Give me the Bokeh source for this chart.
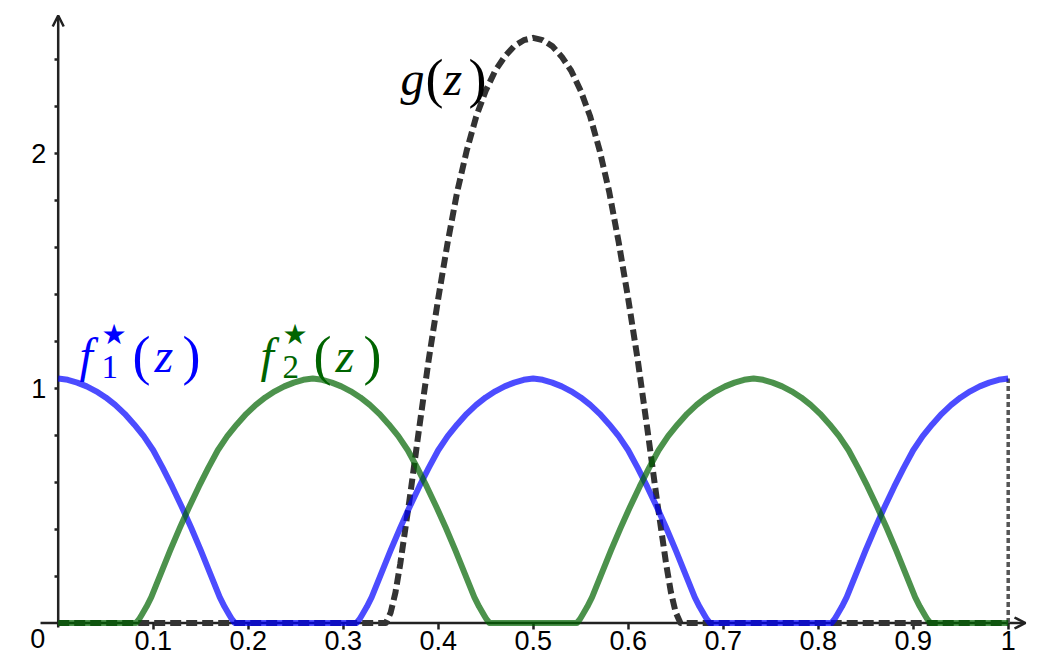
from bokeh.plotting import figure
from bokeh.models import Range1d, FixedTicker, Label, Arrow, OpenHead
from bokeh.embed import file_html
from bokeh.resources import INLINE

# ---------------- data ----------------
f1_x = [0.000, 0.010, 0.020, 0.030, 0.040, 0.050, 0.060, 0.070, 0.080, 0.090, 0.100, 0.110, 0.120, 0.130, 0.140, 0.150, 0.160, 0.170, 0.175, 0.180, 0.183, 0.186,
        0.314, 0.317, 0.320, 0.325, 0.330, 0.340, 0.350, 0.360, 0.370, 0.380, 0.390, 0.400, 0.410, 0.420, 0.430, 0.440, 0.450, 0.460, 0.470, 0.480, 0.490, 0.500,
        0.510, 0.520, 0.530, 0.540, 0.550, 0.560, 0.570, 0.580, 0.590, 0.600, 0.610, 0.620, 0.630, 0.640, 0.650, 0.660, 0.670, 0.675, 0.680, 0.683, 0.686,
        0.814, 0.817, 0.820, 0.825, 0.830, 0.840, 0.850, 0.860, 0.870, 0.880, 0.890, 0.900, 0.910, 0.920, 0.930, 0.940, 0.950, 0.960, 0.970, 0.980, 0.990, 1.000]
f1_y = [1.040, 1.035, 1.023, 1.007, 0.986, 0.960, 0.928, 0.890, 0.845, 0.795, 0.735, 0.660, 0.580, 0.495, 0.405, 0.310, 0.210, 0.110, 0.070, 0.035, 0.015, 0.000,
        0.000, 0.015, 0.035, 0.070, 0.110, 0.210, 0.310, 0.405, 0.495, 0.580, 0.660, 0.735, 0.795, 0.845, 0.890, 0.928, 0.960, 0.986, 1.007, 1.023, 1.035, 1.040,
        1.035, 1.023, 1.007, 0.986, 0.960, 0.928, 0.890, 0.845, 0.795, 0.735, 0.660, 0.580, 0.495, 0.405, 0.310, 0.210, 0.110, 0.070, 0.035, 0.015, 0.000,
        0.000, 0.015, 0.035, 0.070, 0.110, 0.210, 0.310, 0.405, 0.495, 0.580, 0.660, 0.735, 0.795, 0.845, 0.890, 0.928, 0.960, 0.986, 1.007, 1.023, 1.035, 1.040]

f2_x = [0.000, 0.082, 0.085, 0.088, 0.093, 0.098, 0.108, 0.118, 0.128, 0.138, 0.148, 0.158, 0.168, 0.178, 0.188, 0.198, 0.208, 0.218, 0.228, 0.238, 0.248, 0.258, 0.268,
        0.278, 0.288, 0.298, 0.308, 0.318, 0.328, 0.338, 0.348, 0.358, 0.368, 0.378, 0.388, 0.398, 0.408, 0.418, 0.428, 0.438, 0.443, 0.448, 0.451, 0.454,
        0.546, 0.549, 0.552, 0.557, 0.562, 0.572, 0.582, 0.592, 0.602, 0.612, 0.622, 0.632, 0.642, 0.652, 0.662, 0.672, 0.682, 0.692, 0.702, 0.712, 0.722, 0.732,
        0.742, 0.752, 0.762, 0.772, 0.782, 0.792, 0.802, 0.812, 0.822, 0.832, 0.842, 0.852, 0.862, 0.872, 0.882, 0.892, 0.902, 0.907, 0.912, 0.915, 0.918, 1.000]
f2_y = [0.000, 0.000, 0.015, 0.035, 0.070, 0.110, 0.210, 0.310, 0.405, 0.495, 0.580, 0.660, 0.735, 0.795, 0.845, 0.890, 0.928, 0.960, 0.986, 1.007, 1.023, 1.035, 1.040,
        1.035, 1.023, 1.007, 0.986, 0.960, 0.928, 0.890, 0.845, 0.795, 0.735, 0.660, 0.580, 0.495, 0.405, 0.310, 0.210, 0.110, 0.070, 0.035, 0.015, 0.000,
        0.000, 0.015, 0.035, 0.070, 0.110, 0.210, 0.310, 0.405, 0.495, 0.580, 0.660, 0.735, 0.795, 0.845, 0.890, 0.928, 0.960, 0.986, 1.007, 1.023, 1.035, 1.040,
        1.035, 1.023, 1.007, 0.986, 0.960, 0.928, 0.890, 0.845, 0.795, 0.735, 0.660, 0.580, 0.495, 0.405, 0.310, 0.210, 0.110, 0.070, 0.035, 0.015, 0.000, 0.000]

g_x = [0.000, 0.345, 0.350, 0.355, 0.360, 0.370, 0.380, 0.390, 0.400, 0.410, 0.420, 0.430, 0.440, 0.450, 0.460, 0.470, 0.480, 0.490, 0.500,
       0.510, 0.520, 0.530, 0.540, 0.550, 0.560, 0.570, 0.580, 0.590, 0.600, 0.610, 0.620, 0.630, 0.640, 0.645, 0.650, 0.655, 1.000]
g_y = [0.000, 0.000, 0.045, 0.130, 0.250, 0.530, 0.830, 1.120, 1.380, 1.620, 1.835, 2.010, 2.155, 2.265, 2.350, 2.410, 2.455, 2.480, 2.490,
       2.480, 2.455, 2.410, 2.350, 2.265, 2.155, 2.010, 1.835, 1.620, 1.380, 1.120, 0.830, 0.530, 0.250, 0.130, 0.045, 0.000, 0.000]

edge_x = [1.0, 1.0]
edge_y = [0.0, 1.040]

x_ticks = [0.1, 0.2, 0.3, 0.4, 0.5, 0.6, 0.7, 0.8, 0.9, 1.0]
x_tick_labels = ["0.1", "0.2", "0.3", "0.4", "0.5", "0.6", "0.7", "0.8", "0.9", "1"]
y_ticks = [1, 2]
y_tick_labels = ["1", "2"]
y_minor_ticks = [0.2, 0.4, 0.6, 0.8, 1.2, 1.4, 1.6, 1.8, 2.2, 2.4]

# visible extent of the two axis lines (data units)
x_axis_span = [-0.0186, 1.0182]
y_axis_span = [-0.019, 2.585]

# ---------------- figure ----------------
AX = "#222222"
p = figure(width=1059, height=667,
           x_range=Range1d(-0.06074, 1.05400), y_range=Range1d(-0.18936, 2.64894),
           output_backend="svg", toolbar_location=None,
           min_border_left=0, min_border_right=0, min_border_top=0, min_border_bottom=0)
p.grid.visible = False
p.outline_line_color = None
p.background_fill_color = "white"
p.border_fill_color = "white"

for ax in (p.xaxis[0], p.yaxis[0]):
    ax.fixed_location = 0
    ax.level = "underlay"
    ax.axis_line_color = None
    ax.major_tick_line_color = AX
    ax.major_tick_line_width = 2.5
    ax.minor_tick_line_color = AX
    ax.minor_tick_line_width = 2.5
    ax.major_tick_in = 0
    ax.minor_tick_in = 0
    ax.major_label_text_font = "Liberation Sans"
    ax.major_label_text_font_size = "27px"
    ax.major_label_text_color = "black"

p.xaxis[0].ticker = FixedTicker(ticks=x_ticks, minor_ticks=[])
p.xaxis[0].major_label_overrides = dict(zip(x_ticks, x_tick_labels))
p.xaxis[0].major_tick_out = 6
p.xaxis[0].major_label_standoff = 2

p.yaxis[0].ticker = FixedTicker(ticks=y_ticks, minor_ticks=y_minor_ticks)
p.yaxis[0].major_label_overrides = dict(zip(y_ticks, y_tick_labels))
p.yaxis[0].major_tick_out = 4
p.yaxis[0].minor_tick_out = 4
p.yaxis[0].major_label_standoff = 8

# axis lines with open arrow heads
p.add_layout(Arrow(end=OpenHead(size=11, line_width=2.5, line_color=AX), line_width=2.5, line_color=AX,
                   x_start=x_axis_span[0], y_start=0, x_end=x_axis_span[1], y_end=0, level="underlay"))
p.add_layout(Arrow(end=OpenHead(size=11, line_width=2.5, line_color=AX), line_width=2.5, line_color=AX,
                   x_start=0, y_start=y_axis_span[0], x_end=0, y_end=y_axis_span[1], level="underlay"))

p.add_layout(Label(x=0, y=0, x_offset=-13, y_offset=-6, text="0", text_align="right", text_baseline="top",
                   text_font="Liberation Sans", text_font_size="27px", text_color="black"))

# ---------------- curves ----------------
p.line(edge_x, edge_y, line_color="#555555", line_width=3.5, line_dash="5 3")
p.line(g_x, g_y, line_color="#333333", line_width=6, line_dash="11 5", line_join="round")
p.line(f1_x, f1_y, line_color="#0000ff", line_alpha=0.7, line_width=6, line_join="round")
p.line(f2_x, f2_y, line_color="#006400", line_alpha=0.7, line_width=6, line_join="round")

# ---------------- math-style labels ----------------
SERIF = "Liberation Serif"


def piece(x, y, text, dx, dy, size, color, font=SERIF, style="normal"):
    p.add_layout(Label(x=x, y=y, x_offset=dx, y_offset=dy, text=text, text_font=font,
                       text_font_size=size, text_font_style=style, text_color=color,
                       text_align="left", text_baseline="alphabetic"))


def math_label(x, y, letter, sub, color):
    piece(x, y, letter, 0, 0, "48px", color, style="italic")
    if sub is not None:
        piece(x, y, "\u2605", 22, 21, "28px", color, font="DejaVu Sans")
        piece(x, y, sub, 22, -11, "33px", color)
        piece(x, y, "(", 53, 0, "54px", color)
        piece(x, y, "z", 75, 0, "48px", color, style="italic")
        piece(x, y, ")", 103, 0, "54px", color)
    else:
        piece(x, y, "(", 25, 0, "54px", color)
        piece(x, y, "z", 43, 0, "48px", color, style="italic")
        piece(x, y, ")", 68, 0, "54px", color)


math_label(0.0224, 1.138, "f", "1", "#0000ff")
math_label(0.2129, 1.138, "f", "2", "#006400")
math_label(0.3603, 2.317, "g", None, "black")

open("out.html", "w").write(file_html(p, INLINE))
